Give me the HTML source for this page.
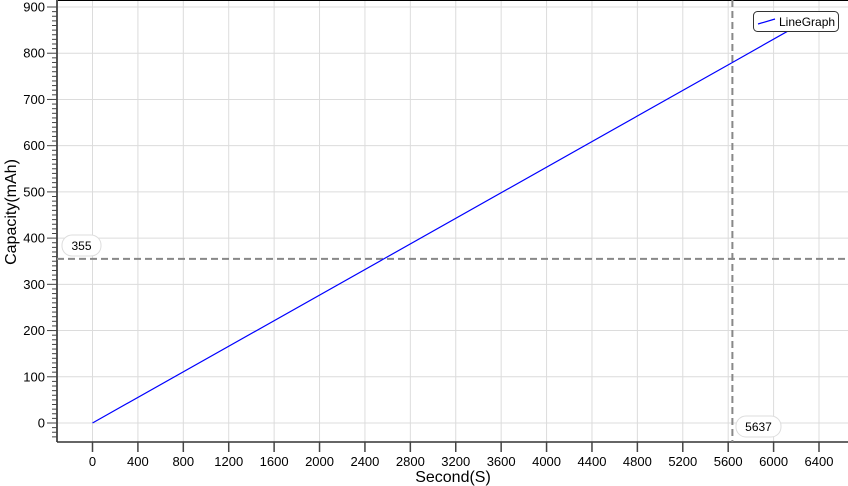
<!DOCTYPE html>
<html><head><meta charset="utf-8"><style>
html,body{margin:0;padding:0;background:#fff;}
svg{display:block;font-family:"Liberation Sans",Arial,sans-serif;}
</style></head><body>
<svg id="chart" width="848" height="486" viewBox="0 0 848 486"></svg>
<script>
const xTicks=[0,400,800,1200,1600,2000,2400,2800,3200,3600,4000,4400,4800,5200,5600,6000,6400];
const yTicks=[0,100,200,300,400,500,600,700,800,900];
const seriesX=[0,5637,6300];
const seriesY=[0,780,872];
const markerX=5637;
const markerY=355;

const NS="http://www.w3.org/2000/svg";
const svg=document.getElementById('chart');
function sx(v){return 92.5+v*(819-92.5)/6400;}
function sy(v){return 423-v*(423-7)/900;}
function el(tag,attrs,parent){const e=document.createElementNS(NS,tag);for(const k in attrs)e.setAttribute(k,attrs[k]);(parent||svg).appendChild(e);return e;}
const L=57,B=442,R=848,T=0;

const grid=el('g',{});


xTicks.forEach(v=>{el('line',{x1:sx(v),x2:sx(v),y1:T,y2:B,stroke:'#dcdcdc','stroke-width':1},grid);});
yTicks.forEach(v=>{el('line',{x1:L,x2:R,y1:sy(v),y2:sy(v),stroke:'#dcdcdc','stroke-width':1},grid);});

// axes
const ax=el('g',{});


el('line',{x1:L,x2:R,y1:0.5,y2:0.5,stroke:'#000','stroke-width':1},ax);
el('line',{x1:L,x2:L,y1:0,y2:B,stroke:'#555','stroke-width':2},ax);
el('line',{x1:L,x2:R,y1:B,y2:B,stroke:'#333','stroke-width':1.5},ax);
for(let v=-40;v<=900;v+=10){
  if(sy(v)>B-1)continue;
  const major=v%100===0;
  el('line',{x1:major?47:52,x2:L,y1:sy(v),y2:sy(v),stroke:'#444','stroke-width':1},ax);
}
yTicks.forEach(v=>{
  const t=el('text',{x:45,y:sy(v)+4.5,'text-anchor':'end','font-size':13,fill:'#000'},ax);
  t.textContent=v;
  
  
});
xTicks.forEach(v=>{
  el('line',{x1:sx(v),x2:sx(v),y1:B,y2:B+10,stroke:'#444','stroke-width':1.5},ax);
  const t=el('text',{x:sx(v),y:466,'text-anchor':'middle','font-size':13,fill:'#000'},ax);
  t.textContent=v;
  
  
});
const xt=el('text',{x:453,y:482,'text-anchor':'middle','font-size':16,fill:'#000'});
xt.textContent='Second(S)';


const yt=el('text',{x:0,y:0,'text-anchor':'middle','font-size':16,fill:'#000',transform:'translate(16,212) rotate(-90)'});
yt.textContent='Capacity(mAh)';



// markers
const hl=el('line',{x1:L,x2:R,y1:sy(markerY),y2:sy(markerY),stroke:'#888','stroke-width':2,'stroke-dasharray':'7,4'});


const vl=el('line',{x1:sx(markerX),x2:sx(markerX),y1:T,y2:B,stroke:'#888','stroke-width':2,'stroke-dasharray':'7,4'});



// series
const pts=seriesX.map((x,i)=>sx(x)+','+sy(seriesY[i])).join(' ');
const pl=el('polyline',{points:pts,fill:'none',stroke:'#0000ff','stroke-width':1.2});



// marker labels
const yl=el('g',{});


el('rect',{x:62,y:235,width:39,height:21,rx:10,fill:'#fff',stroke:'#ddd'},yl);
el('text',{x:81.5,y:250,'text-anchor':'middle','font-size':12,fill:'#000'},yl).textContent=markerY;
const xl=el('g',{});


el('rect',{x:736,y:416,width:45,height:21,rx:10,fill:'#fff',stroke:'#ddd'},xl);
el('text',{x:758.5,y:431,'text-anchor':'middle','font-size':12,fill:'#000'},xl).textContent=markerX;

// legend
const lg=el('g',{});


el('rect',{x:753.5,y:11.5,width:85,height:20,rx:4,fill:'#fff',stroke:'#333','stroke-width':1},lg);
el('line',{x1:758,x2:775,y1:24,y2:19,stroke:'#0000ff','stroke-width':1.2},lg);
el('text',{x:779,y:26,'font-size':12,fill:'#000'},lg).textContent='LineGraph';
</script>
</body></html>
